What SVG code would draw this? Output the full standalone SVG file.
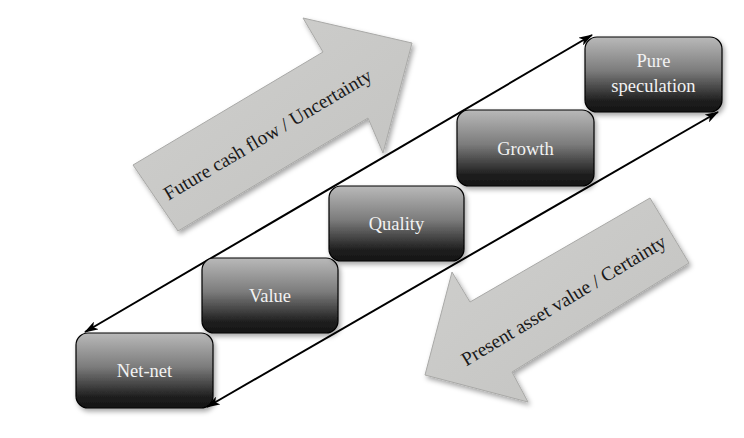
<svg xmlns="http://www.w3.org/2000/svg" width="744" height="438" viewBox="0 0 744 438">
  <defs>
    <linearGradient id="boxGrad" x1="0" y1="0" x2="0" y2="1">
      <stop offset="0" stop-color="#b9b9b9"/>
      <stop offset="0.45" stop-color="#7c7c7c"/>
      <stop offset="0.85" stop-color="#1f1f1f"/>
      <stop offset="1" stop-color="#141414"/>
    </linearGradient>
    <linearGradient id="arrowGrad" x1="0" y1="0" x2="1" y2="1">
      <stop offset="0" stop-color="#d0d0ce"/>
      <stop offset="1" stop-color="#c2c2c0"/>
    </linearGradient>
    <filter id="shadow" x="-10%" y="-10%" width="130%" height="130%">
      <feDropShadow dx="2" dy="3" stdDeviation="2.5" flood-color="#000" flood-opacity="0.35"/>
    </filter>
    <marker id="head" viewBox="0 0 14 9" refX="13" refY="4.5" markerWidth="14" markerHeight="9" markerUnits="userSpaceOnUse" orient="auto-start-reverse">
      <path d="M0,0 L14,4.5 L0,9 L3.5,4.5 Z" fill="#000"/>
    </marker>
    <style>
      .box { fill: url(#boxGrad); stroke: #000; stroke-width: 1.2; filter: url(#shadow); }
      .boxText { font-family: "Liberation Serif", "DejaVu Serif", serif; font-size: 18.5px; fill: #f2f2f2; text-anchor: middle; }
      .bigArrow { fill: url(#arrowGrad); stroke: #a9a9a7; stroke-width: 1; filter: url(#shadow); }
      .arrowText { font-family: "Liberation Serif", "DejaVu Serif", serif; font-size: 19.5px; fill: #1a1a1a; text-anchor: middle; }
      .conn { stroke: #000; stroke-width: 2; fill: none; marker-start: url(#head); marker-end: url(#head); }
    </style>
  </defs>

  <rect width="744" height="438" fill="#ffffff"/>

  <g id="future-arrow">
    <polygon class="bigArrow" points="133,165 323,52 303,18 412,43 383,153 368,118 178,231"/>
    <text class="arrowText" x="271" y="140" transform="rotate(-30.7 271 140)">Future cash flow / Uncertainty</text>
  </g>

  <g id="present-arrow">
    <polygon class="bigArrow" points="650,198 470,302 452,272 425,375 528,402 512,372 689,263"/>
    <text class="arrowText" x="567" y="306" transform="rotate(-31 567 306)">Present asset value / Certainty</text>
  </g>

  <g id="connectors">
    <line class="conn" x1="85" y1="332" x2="592" y2="35"/>
    <line class="conn" x1="207" y1="407" x2="718" y2="112"/>
  </g>

  <g id="net-net">
    <rect class="box" x="76" y="333" width="137" height="75" rx="12" ry="12"/>
    <text class="boxText" x="144.5" y="377">Net-net</text>
  </g>

  <g id="value">
    <rect class="box" x="202" y="258" width="136" height="75" rx="12" ry="12"/>
    <text class="boxText" x="270" y="302">Value</text>
  </g>

  <g id="quality">
    <rect class="box" x="329" y="186" width="135" height="75" rx="12" ry="12"/>
    <text class="boxText" x="396.5" y="230">Quality</text>
  </g>

  <g id="growth">
    <rect class="box" x="457" y="110" width="137" height="76" rx="12" ry="12"/>
    <text class="boxText" x="525.5" y="155">Growth</text>
  </g>

  <g id="pure-speculation">
    <rect class="box" x="585" y="37" width="137" height="75" rx="12" ry="12"/>
    <text class="boxText" x="653.5" y="67">Pure</text>
    <text class="boxText" x="653.5" y="92">speculation</text>
  </g>
</svg>
